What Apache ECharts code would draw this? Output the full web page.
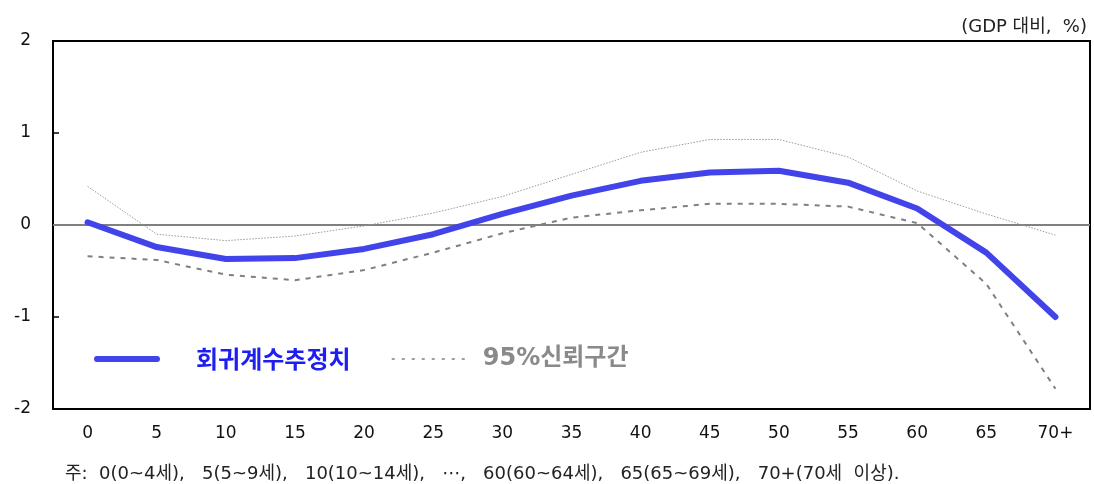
<!DOCTYPE html>
<html>
<head>
<meta charset="utf-8">
<script src="https://cdn.jsdelivr.net/npm/echarts@6/dist/echarts.min.js"></script>
<style>
  html, body { margin: 0; padding: 0; background: #fff; }
  #chart { width: 1094px; height: 484px; }
</style>
</head>
<body>
<div id="chart"></div>
<script>
// 연령대 (5세 단위)
const ageGroups = ['0', '5', '10', '15', '20', '25', '30', '35', '40', '45', '50', '55', '60', '65', '70+'];
// 회귀계수 추정치 (GDP 대비, %)
const estimate = [0.03, -0.24, -0.37, -0.36, -0.26, -0.10, 0.12, 0.32, 0.48, 0.57, 0.59, 0.46, 0.18, -0.30, -1.00];
// 95% 신뢰구간 상한 / 하한
const upperBound = [0.42, -0.10, -0.17, -0.12, -0.01, 0.13, 0.31, 0.55, 0.79, 0.93, 0.93, 0.74, 0.37, 0.12, -0.11];
const lowerBound = [-0.34, -0.38, -0.54, -0.60, -0.49, -0.30, -0.09, 0.08, 0.16, 0.23, 0.23, 0.20, 0.02, -0.64, -1.78];
const yTicks = [-2, -1, 0, 1, 2];

const FONT = '"Noto Sans CJK KR", "Noto Sans", sans-serif';
// 숫자·기호는 폭이 넓은 글꼴, 한글은 CJK 글꼴로
const WIDE = '"DejaVu Sans", "Noto Sans CJK KR", sans-serif';
const BLUE = '#4343EA';
const GREY = '#808080';

const chart = echarts.init(document.getElementById('chart'));
chart.setOption({
  animation: false,
  textStyle: { fontFamily: FONT },
  grid: {
    left: 53, right: 4, top: 41, bottom: 75,
    show: true, borderColor: '#000', borderWidth: 2, backgroundColor: 'transparent'
  },
  title: [
    {
      text: '(GDP 대비,  %)',
      right: 2, top: 13,
      textStyle: { fontFamily: WIDE, fontSize: 18, fontWeight: 'normal', color: '#222' }
    },
    {
      text: '주:  0(0~4세),   5(5~9세),   10(10~14세),   ⋯,   60(60~64세),   65(65~69세),   70+(70세  이상).',
      left: 60, top: 460,
      textStyle: { fontFamily: WIDE, fontSize: 18, fontWeight: 'normal', color: '#222' }
    }
  ],
  legend: [
    {
      left: 89, top: 342,
      itemWidth: 60, itemHeight: 14,
      itemStyle: { opacity: 0 },
      textStyle: { fontFamily: FONT, fontSize: 24, fontWeight: 'bold', color: '#1E1EF0', padding: [0, 0, 0, 34] },
      data: [
        { name: '회귀계수추정치', lineStyle: { width: 6, color: BLUE, cap: 'round' } }
      ]
    },
    {
      left: 386, top: 342,
      itemWidth: 74, itemHeight: 14,
      itemStyle: { opacity: 0 },
      textStyle: { fontFamily: WIDE, fontSize: 24, fontWeight: 'bold', color: '#8a8a8a', padding: [0, 0, 0, 12] },
      data: [
        { name: '95%신뢰구간', lineStyle: { width: 1.5, color: GREY, type: [3, 7] } }
      ]
    }
  ],
  xAxis: {
    type: 'category',
    data: ageGroups,
    boundaryGap: true,
    axisLine: { show: false },
    axisTick: { show: false },
    axisLabel: { color: '#111', fontSize: 17, margin: 16, fontFamily: WIDE }
  },
  yAxis: {
    type: 'value',
    min: yTicks[0], max: yTicks[yTicks.length - 1], interval: 1,
    axisLine: { show: false },
    axisTick: { show: true, inside: true, length: 6, lineStyle: { color: '#000', width: 1.5 } },
    splitLine: { show: false },
    axisLabel: { color: '#111', fontSize: 17, margin: 22, fontFamily: WIDE, padding: [6, 0, 0, 0] }
  },
  series: [
    {
      name: '95%신뢰구간',
      type: 'line',
      data: upperBound,
      symbol: 'none',
      z: 2,
      lineStyle: { color: '#999', width: 1, type: [1.5, 1.5] }
    },
    {
      name: '95%신뢰구간',
      type: 'line',
      data: lowerBound,
      symbol: 'none',
      z: 2,
      lineStyle: { color: GREY, width: 2, type: [5, 6] }
    },
    {
      name: '회귀계수추정치',
      type: 'line',
      data: estimate,
      symbol: 'none',
      z: 4,
      lineStyle: { color: BLUE, width: 6, cap: 'round', join: 'round' },
      markLine: {
        silent: true,
        symbol: 'none',
        label: { show: false },
        z: 1,
        lineStyle: { color: '#808080', width: 2, type: 'solid' },
        data: [{ yAxis: 0 }]
      }
    }
  ]
});
</script>
</body>
</html>
